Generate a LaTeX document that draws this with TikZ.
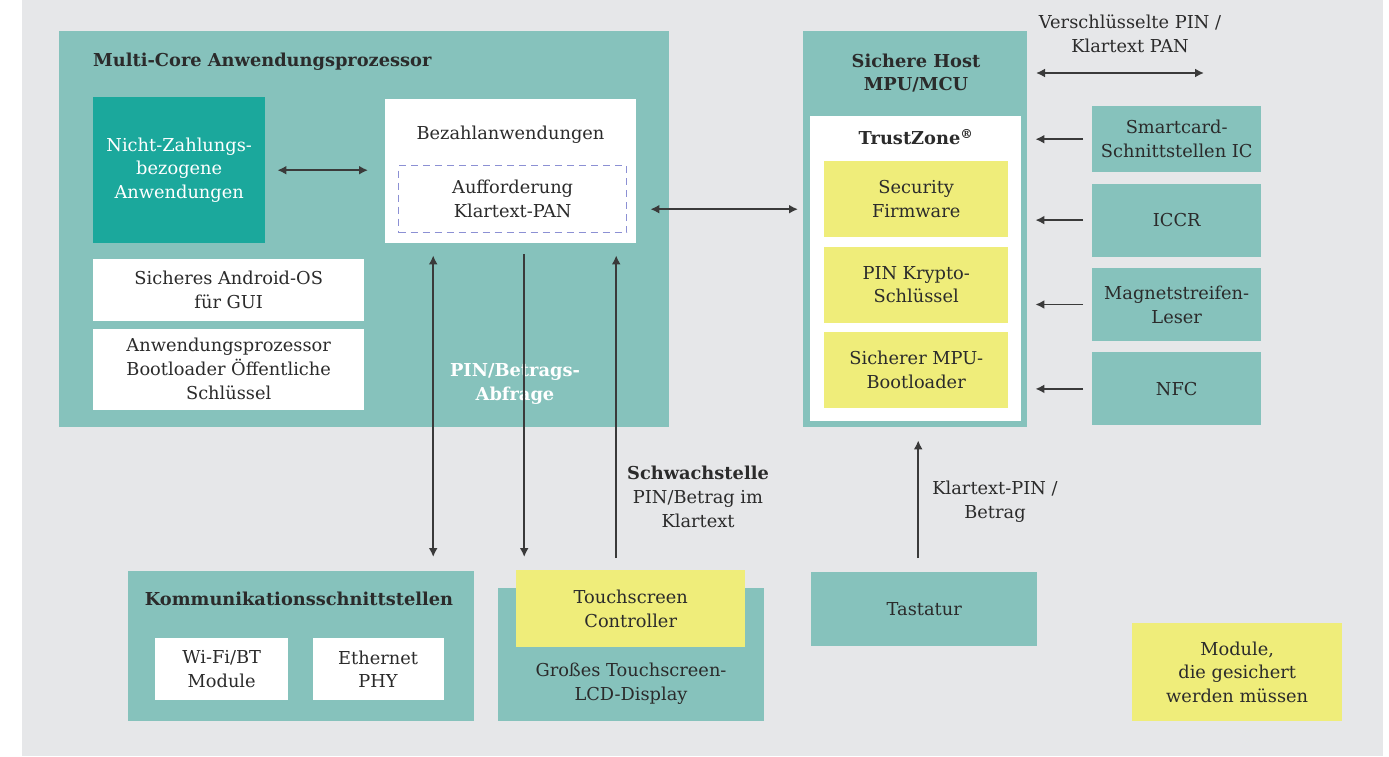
\documentclass[tikz,border=0pt]{standalone}
\usepackage{fontspec}
\setmainfont{DejaVu Serif}
\usepackage{tikz}
\usetikzlibrary{arrows.meta,positioning}
\definecolor{bggray}{HTML}{E6E7E9}
\definecolor{tealbox}{HTML}{86C2BC}
\definecolor{darkteal}{HTML}{1BA89C}
\definecolor{yelbox}{HTML}{EFED7A}
\definecolor{dashblue}{HTML}{8C90D4}
\definecolor{txtdark}{HTML}{2B2B2B}
\definecolor{arrgray}{HTML}{3A3A3A}
\newcommand{\boxfont}{\fontsize{17.8}{23.8}\selectfont}
\tikzset{cbox/.style={inner sep=0pt, anchor=north west, align=center, text=txtdark, font=\boxfont}}
\tikzset{tealb/.style={cbox, fill=tealbox}}
\tikzset{whiteb/.style={cbox, fill=white}}
\tikzset{yelb/.style={cbox, fill=yelbox}}
\tikzset{title/.style={inner sep=0pt, align=center, text=txtdark, font=\boxfont\bfseries}}
\tikzset{label/.style={inner sep=0pt, align=center, text=txtdark, font=\boxfont}}
\tikzset{line/.style={draw=arrgray, line width=1.8pt, -{Latex[length=9pt,width=9pt]}}}
\tikzset{dline/.style={line, {Latex[length=9pt,width=9pt]}-{Latex[length=9pt,width=9pt]}}}

\begin{document}
\begin{tikzpicture}[x=1pt, y=-1pt]
        \useasboundingbox (0,0) rectangle (1389,756);
        \fill [white]  (0,0) rectangle (1389,756);
        \fill [bggray] (22,0) rectangle (1383,756);
        %
        \node [tealb, minimum width=610pt, minimum height=396pt]          (mcap)    at (59,31)   {};
        \node [title, anchor=west]                                         (mcapt)   at (93,62)   {Multi-Core Anwendungsprozessor};
        \node [cbox, fill=darkteal, text=white, minimum width=172pt, minimum height=146pt] (nicht) at (93,97) {Nicht-Zahlungs-\\bezogene\\Anwendungen};
        \node [whiteb, minimum width=271pt, minimum height=62pt]           (android) at (93,259)  {Sicheres Android-OS\\für GUI};
        \node [whiteb, minimum width=271pt, minimum height=81pt, below=7pt of android.south west, anchor=north west] (apboot) {Anwendungsprozessor\\Bootloader Öffentliche\\Schlüssel};
        \node [whiteb, minimum width=251pt, minimum height=144pt]          (bezahl)  at (385,99)  {};
        \node [label]                                                      (bezt)    at (510.5,135) {Bezahlanwendungen};
        \node [cbox, draw=dashblue, line width=1.3pt, dash pattern=on 7pt off 5pt, minimum width=228pt, minimum height=67pt] (aufford) at (398,165) {Aufforderung\\Klartext-PAN};
        \node [title, text=white]                                          (abfrage) at (515,384) {PIN/Betrags-\\Abfrage};
        %
        \node [tealb, minimum width=224pt, minimum height=396pt]           (host)    at (803,31)  {};
        \node [title]                                                      (hostt)   at (916,73)  {Sichere Host\\MPU/MCU};
        \node [whiteb, minimum width=211pt, minimum height=305pt]          (tz)      at (810,116) {};
        \node [title]                                                      (tzt)     at (916,137) {TrustZone\textsuperscript{®}};
        \node [yelb, minimum width=184pt, minimum height=76pt]             (secfw)   at (824,161) {Security\\Firmware};
        \node [yelb, minimum width=184pt, minimum height=76pt, below=9pt of secfw.south west, anchor=north west]  (krypto) {PIN Krypto-\\Schlüssel};
        \node [yelb, minimum width=184pt, minimum height=76pt, below=9pt of krypto.south west, anchor=north west] (mpuboot) {Sicherer MPU-\\Bootloader};
        %
        \node [tealb, minimum width=169pt, minimum height=66pt]            (smart)   at (1092,106) {Smartcard-\\Schnittstellen IC};
        \node [tealb, minimum width=169pt, minimum height=73pt, below=11pt of smart.south west, anchor=north west]  (iccr)   {ICCR};
        \node [tealb, minimum width=169pt, minimum height=73pt, below=11pt of iccr.south west, anchor=north west]   (magnet) {Magnetstreifen-\\Leser};
        \node [tealb, minimum width=169pt, minimum height=73pt, below=11pt of magnet.south west, anchor=north west] (nfc)    {NFC};
        \coordinate (encl) at (1036,73);
        \coordinate (encr) at (1204,73);
        \node [label]                                                      (enct)    at (1130,34) {Verschlüsselte PIN /\\Klartext PAN};
        %
        \node [tealb, minimum width=346pt, minimum height=150pt]           (komm)    at (128,571) {};
        \node [title]                                                      (kommt)   at (299,599) {Kommunikationsschnittstellen};
        \node [whiteb, minimum width=133pt, minimum height=62pt]           (wifi)    at (155,638) {Wi-Fi/BT\\Module};
        \node [whiteb, minimum width=131pt, minimum height=62pt, right=24pt of wifi.north east, anchor=north west] (eth) {Ethernet\\PHY};
        \node [tealb, minimum width=266pt, minimum height=133pt]           (lcd)     at (498,588) {};
        \node [label]                                                      (lcdt)    at (631,684) {Großes Touchscreen-\\LCD-Display};
        \node [yelb, minimum width=229pt, minimum height=77pt]             (tsc)     at (516,570) {Touchscreen\\Controller};
        \node [label]                                                      (schwach) at (698,497) {\textbf{Schwachstelle}\\PIN/Betrag im\\Klartext};
        \node [tealb, minimum width=226pt, minimum height=74pt]            (tast)    at (811,572) {Tastatur};
        \node [label]                                                      (klart)   at (995,502) {Klartext-PIN /\\Betrag};
        \node [yelb, minimum width=210pt, minimum height=98pt]             (legend)  at (1132,623) {Module,\\die gesichert\\werden müssen};
        %
        \path [dline, shorten <=12pt, shorten >=17pt] (nicht.east) -- (nicht.east -| bezahl.west);
        \path [dline, shorten <=14pt, shorten >=5pt]  ([yshift=-38pt]bezahl.east) -- ([yshift=-38pt]bezahl.east -| host.west);
        \path [dline, shorten <=12pt, shorten >=14pt] ([xshift=-77.5pt]bezahl.south) -- ([xshift=-77.5pt]bezahl.south |- komm.north);
        \path [line, shorten <=11pt, shorten >=13pt]  ([xshift=13.5pt]bezahl.south) -- ([xshift=13.5pt]bezahl.south |- tsc.north);
        \path [line, shorten <=12pt, shorten >=12pt]  ([xshift=105.5pt]bezahl.south |- tsc.north) -- ([xshift=105.5pt]bezahl.south);
        \foreach \n in {smart, iccr, magnet, nfc}
            \path [line, shorten <=9pt, shorten >=8pt] (\n.west) -- (\n.west -| host.east);
        \path [dline]                                  (encl) -- (encr);
        \path [line, shorten <=14pt, shorten >=13pt]  ([xshift=-6pt]tast.north) -- ([xshift=-6pt]tast.north |- host.south);
    \end{tikzpicture}
\end{document}
